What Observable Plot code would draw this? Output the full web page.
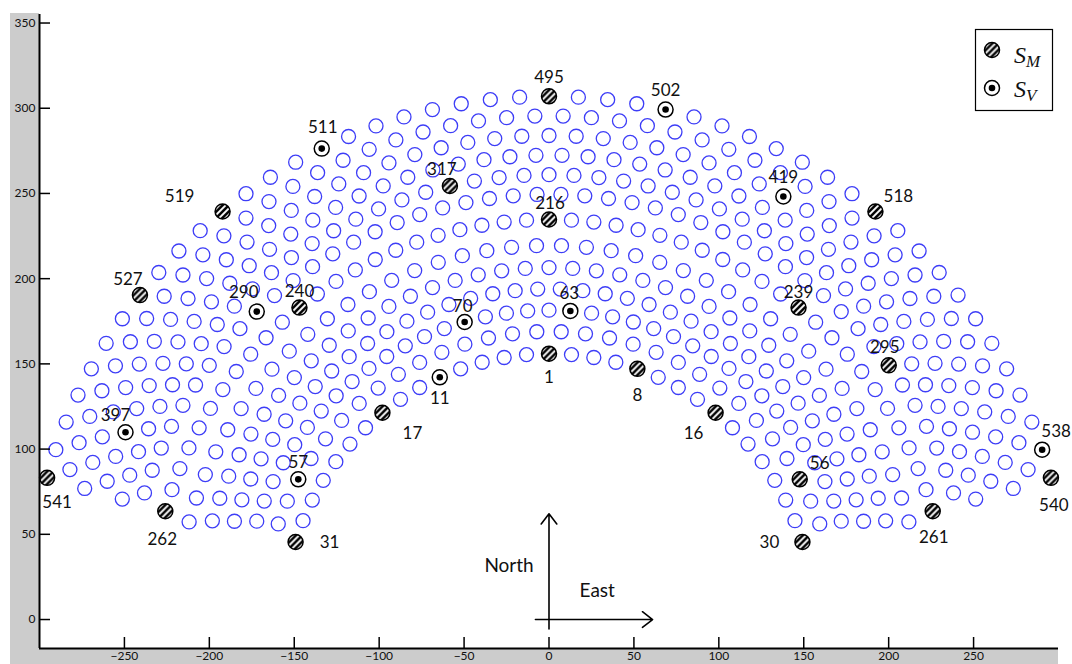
<!DOCTYPE html>
<html><head><meta charset="utf-8">
<script src="https://cdn.jsdelivr.net/npm/d3@7"></script>
<script src="https://cdn.jsdelivr.net/npm/@observablehq/plot@0.6"></script>
<style>
html,body{margin:0;padding:0;background:#fff;}
#wrap{position:relative;width:1072px;height:664px;overflow:hidden;background:#fff;}
#bg{position:absolute;left:10px;top:13px;width:1048px;height:651px;background:#cccccc;}
#plotarea{position:absolute;left:39px;top:0;width:1033px;height:648px;background:#fff;}
#chart{position:absolute;left:0;top:0;}
</style></head><body>
<div id="wrap"><div id="bg"></div><div id="plotarea"></div><div id="chart"></div></div>
<script>
// Ring layout (radius in plot units, heliostats per ring, angular step in degrees)
const ringRadius = [156, 169, 181.5, 194, 206.5, 219.5, 234.7, 249.5, 261, 272.5, 284, 295.5, 307];
const ringCount  = [31, 30, 37, 38, 39, 40, 47, 46, 47, 46, 47, 46, 47];
const ringStep   = [4.87, 4.87, 3.97, 3.93, 3.88, 3.84, 3.23, 3.23, 3.23, 3.23, 3.23, 3.23, 3.23];

// Highlighted heliostats
const smIds = [1, 8, 16, 17, 30, 31, 56, 216, 239, 240, 261, 262, 295, 317, 495, 518, 519, 527, 540, 541];
const svIds = [11, 57, 63, 70, 290, 397, 419, 502, 511, 538];

const xTicks = [-250, -200, -150, -100, -50, 0, 50, 100, 150, 200, 250];
const yTicks = [0, 50, 100, 150, 200, 250, 300, 350];

// label placement (pixel offsets from marker)
const labelOffset = {
  495:[0,-19], 502:[0,-19], 511:[1,-21], 519:[-43,-15], 518:[23,-15], 527:[-12,-16],
  290:[-13,-19], 240:[0,-16], 317:[-8,-16], 216:[1,-16], 419:[0,-19], 239:[0,-15],
  70:[-2,-15], 63:[-1,-17], 1:[0,24], 11:[0,21], 8:[0,27], 17:[30,21], 16:[-22,21],
  295:[-4,-18], 397:[-10,-17], 541:[10,25], 262:[-3,28], 57:[0,-17], 31:[34,1],
  30:[-33,1], 56:[20,-16], 261:[1,26], 538:[14,-18], 540:[3,28]
};

// compass annotation
const compassArrows = [
  {x1: 0, y1: -5.5, x2: 0, y2: 62},
  {x1: -8, y1: 0, x2: 61, y2: 0}
];
const compassText = [
  {x: -9, y: 31.6, text: "North", anchor: "end"},
  {x: 18, y: 16.8, text: "East", anchor: "start"}
];

// build field
const field = [];
let id = 1;
ringRadius.forEach((r, ri) => {
  const n = ringCount[ri], step = ringStep[ri];
  const offs = [];
  if (n % 2) { offs.push(0); for (let i = 1; i <= (n - 1) / 2; i++) offs.push(-i, i); }
  else { for (let i = 1; i <= n / 2; i++) offs.push(-(i - 0.5), i - 0.5); }
  offs.forEach(o => {
    const a = (90 + o * step) * Math.PI / 180;
    field.push({id: id++, ring: ri + 1, x: r * Math.cos(a), y: r * Math.sin(a)});
  });
});
const byId = new Map(field.map(d => [d.id, d]));
const special = new Set([...smIds, ...svIds]);
const regular = field.filter(d => !special.has(d.id));
const sm = smIds.map(i => byId.get(i));
const sv = svIds.map(i => byId.get(i));

const labelMarks = [...smIds, ...svIds].map(i => {
  const d = byId.get(i), [dx, dy] = labelOffset[i] || [0, -18];
  return Plot.text([d], {x: "x", y: "y", text: d => String(d.id), dx, dy, fontSize: 17,
    fill: "#111", fontFamily: "Lato, 'Open Sans', sans-serif", lineAnchor: "middle"});
});

const plot = Plot.plot({
  width: 1072, height: 664,
  marginLeft: 39, marginRight: 14, marginTop: 14, marginBottom: 16,
  x: {domain: [-300, 300]},
  y: {domain: [-17, 355]},
  style: {background: "transparent", fontFamily: "Lato, 'Open Sans', sans-serif", overflow: "visible"},
  marks: [
    Plot.dot(regular, {x: "x", y: "y", r: 7, stroke: "#3d3df7", strokeWidth: 1.3, fill: "none"}),
    Plot.dot(sm, {x: "x", y: "y", r: 7.5, fill: "url(#hatchSM)", stroke: "black", strokeWidth: 1.5}),
    Plot.dot(sv, {x: "x", y: "y", r: 7.5, fill: "white", stroke: "black", strokeWidth: 1.5}),
    Plot.dot(sv, {x: "x", y: "y", r: 3.3, fill: "black"}),
    ...labelMarks,
    Plot.arrow(compassArrows, {x1: "x1", y1: "y1", x2: "x2", y2: "y2", stroke: "black", strokeWidth: 1.6, headLength: 12, headAngle: 75}),
    Plot.text(compassText.filter(d => d.anchor === "end"), {x: "x", y: "y", text: "text", textAnchor: "end", fontSize: 19, fill: "#111"}),
    Plot.text(compassText.filter(d => d.anchor === "start"), {x: "x", y: "y", text: "text", textAnchor: "start", fontSize: 19, fill: "#111"}),
    Plot.axisX({ticks: xTicks, tickSize: -11, tickFormat: () => "", label: null, stroke: "black", strokeWidth: 1.5}),
    Plot.axisY({ticks: yTicks, tickSize: -11, tickFormat: () => "", label: null, stroke: "black", strokeWidth: 1.5}),
    Plot.axisX({ticks: xTicks, tickSize: 0, tickPadding: 3, label: null, fontSize: 12, fill: "#111"}),
    Plot.axisY({ticks: yTicks, tickSize: 0, tickPadding: 4, label: null, fontSize: 12, fill: "#111"}),
    Plot.ruleX([-300], {stroke: "black", strokeWidth: 2}),
    Plot.ruleY([-17], {stroke: "black", strokeWidth: 2})
  ]
});

const svg = d3.select(plot);
const defs = svg.insert("defs", ":first-child");
function addHatch(idName) {
  const pat = defs.append("pattern").attr("id", idName)
    .attr("patternUnits", "objectBoundingBox").attr("patternContentUnits", "objectBoundingBox")
    .attr("width", 1).attr("height", 1);
  pat.append("rect").attr("width", 1).attr("height", 1).attr("fill", "white");
  const g = pat.append("g").attr("transform", "rotate(-45 0.5 0.5)");
  [0.12, 0.415, 0.71].forEach(y0 => g.append("rect").attr("x", -0.5).attr("y", y0).attr("width", 2).attr("height", 0.17).attr("fill", "black"));
}
addHatch("hatchSM");

// legend box (top-right inside the axes)
const lg = svg.append("g").attr("font-family", "'Liberation Serif', 'DejaVu Serif', serif").attr("text-anchor", "start");
lg.append("rect").attr("x", 975.5).attr("y", 29.5).attr("width", 77).attr("height", 81)
  .attr("fill", "white").attr("stroke", "black").attr("stroke-width", 1.2);
lg.append("circle").attr("cx", 992).attr("cy", 50).attr("r", 7.5).attr("fill", "url(#hatchSM)").attr("stroke", "black").attr("stroke-width", 1.5);
lg.append("circle").attr("cx", 992).attr("cy", 88).attr("r", 7.5).attr("fill", "white").attr("stroke", "black").attr("stroke-width", 1.5);
lg.append("circle").attr("cx", 992).attr("cy", 88).attr("r", 3.3).attr("fill", "black");
function legendText(y, sub) {
  const t = lg.append("text").attr("x", 1014).attr("y", y).attr("font-size", 24).attr("font-style", "italic").attr("fill", "#111").attr("text-anchor", "start");
  t.append("tspan").text("S");
  t.append("tspan").attr("font-size", 17).attr("dy", 4).text(sub);
}
legendText(63, "M");
legendText(97, "V");

document.getElementById("chart").appendChild(plot);
</script>
</body></html>
